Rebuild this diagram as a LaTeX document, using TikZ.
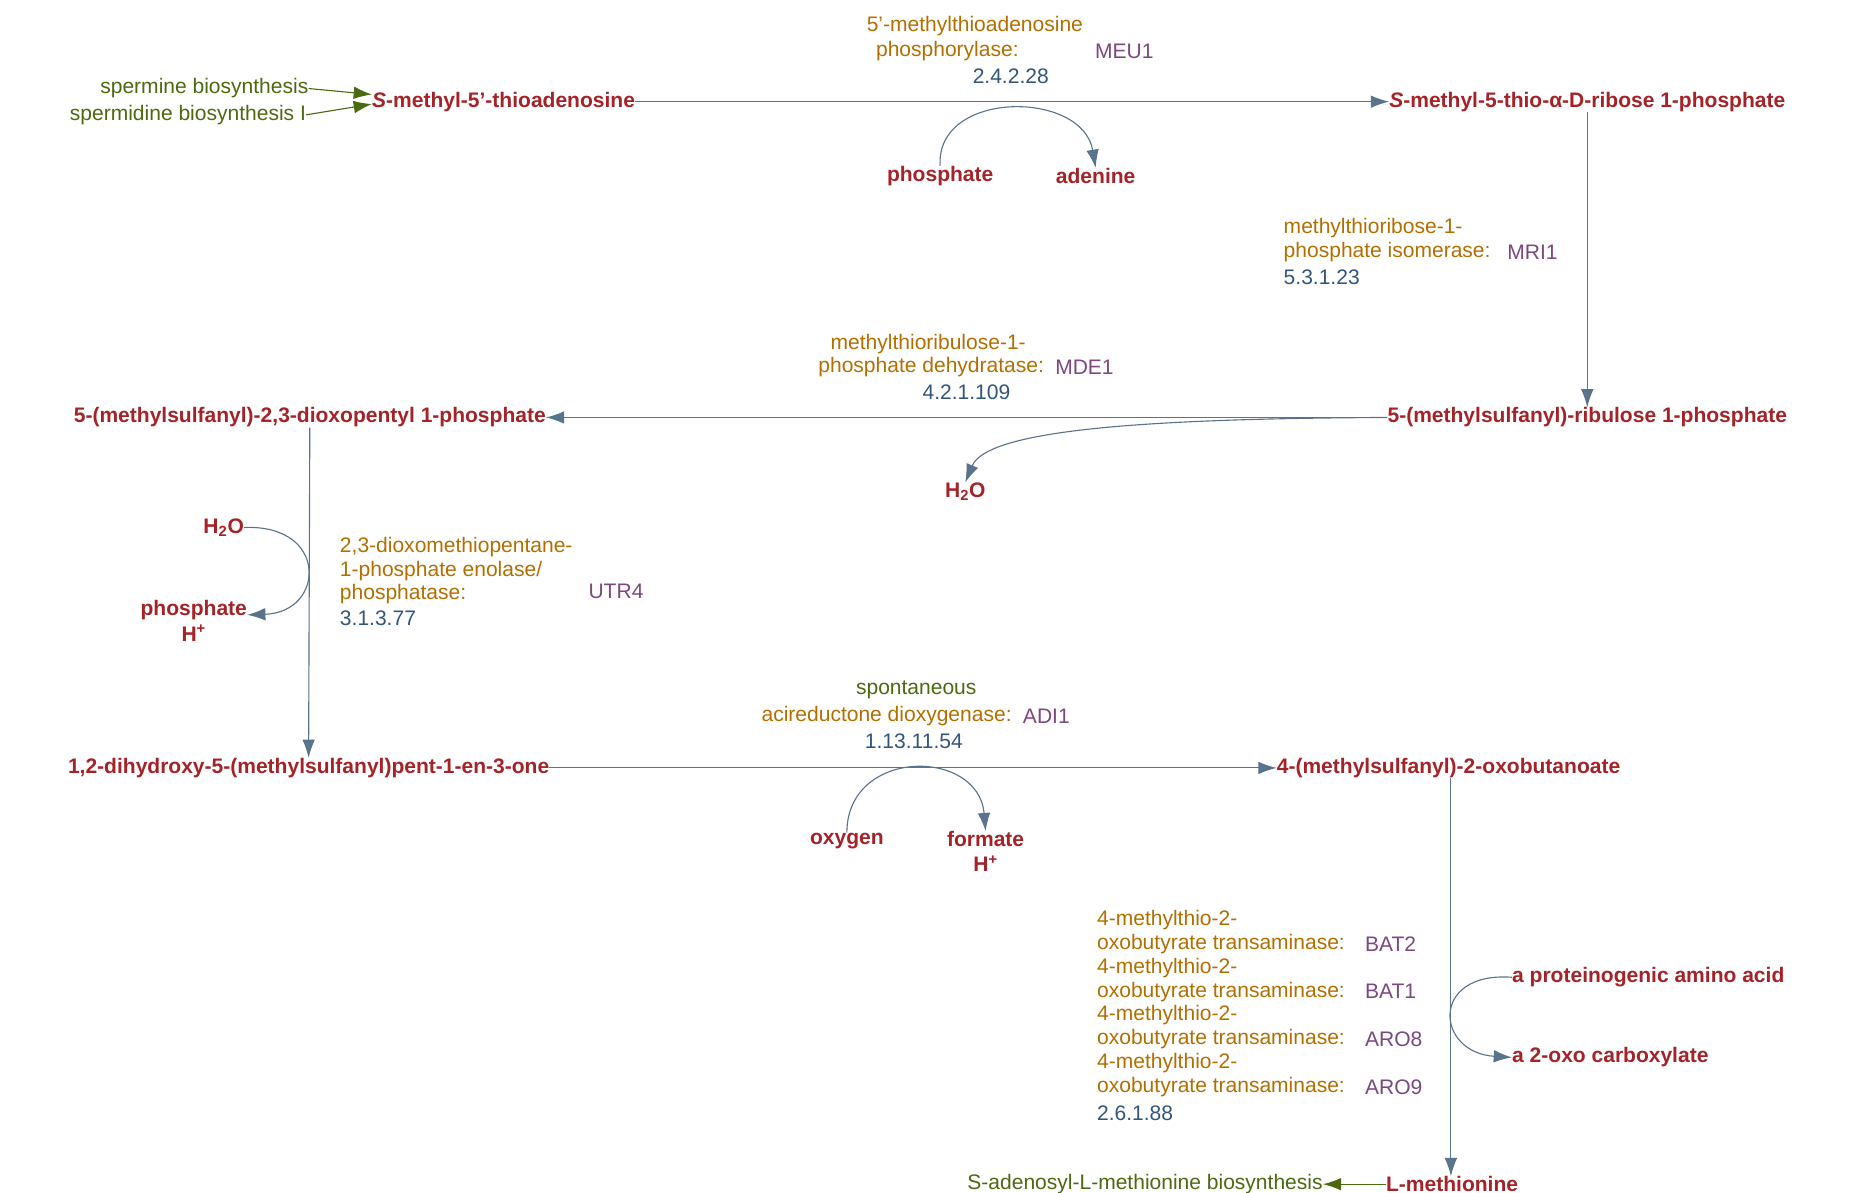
\documentclass[tikz,border=0pt]{standalone}
\usepackage{fontspec}
\setmainfont{Liberation Sans}
\usetikzlibrary{arrows.meta,calc}
\definecolor{met}{RGB}{165,35,40}
\definecolor{enz}{RGB}{180,110,0}
\definecolor{gene}{RGB}{125,70,130}
\definecolor{ec}{RGB}{50,85,125}
\definecolor{path}{RGB}{75,105,15}
\definecolor{arr}{RGB}{90,115,140}
\tikzset{
 m/.style={font=\fontsize{15}{18}\selectfont\bfseries, text=met, inner sep=0pt},
 e/.style={font=\fontsize{15}{18}\selectfont, text=enz, inner sep=0pt},
 g/.style={font=\fontsize{15}{18}\selectfont, text=gene, inner sep=0pt},
 c/.style={font=\fontsize{15}{18}\selectfont, text=ec, inner sep=0pt},
 p/.style={font=\fontsize{15}{18}\selectfont, text=path, inner sep=0pt},
 a/.style={draw=arr, line width=0.8pt, -{Latex[length=13pt,width=9pt]}},
 ga/.style={draw=path, line width=0.8pt, -{Latex[length=13pt,width=9pt]}},
}
\begin{document}
\begin{tikzpicture}[x=0.03cm,y=-0.03cm]
\useasboundingbox (0,0) rectangle (1550,997);
% metabolites
\node[m] (mta) at (421,85) {\textit{S}-methyl-5'-thioadenosine};
\node[m] (mtr) at (1327,85) {\textit{S}-methyl-5-thio-α-D-ribose 1-phosphate};
\node[m] (mtru) at (1327,349) {5-(methylsulfanyl)-ribulose 1-phosphate};
\node[m] (dk) at (259,349) {5-(methylsulfanyl)-2,3-dioxopentyl 1-phosphate};
\node[m] (dhk) at (258,642) {1,2-dihydroxy-5-(methylsulfanyl)pent-1-en-3-one};
\node[m] (kmtb) at (1211,642) {4-(methylsulfanyl)-2-oxobutanoate};
\node[m] (lmet) at (1214,990) {L-methionine};
\node[p,anchor=east] (sab) at (1106,990) {S-adenosyl-L-methionine biosynthesis};
\node[p,anchor=east] (spm) at (258,74) {spermine biosynthesis};
\node[p,anchor=east] (spd) at (256,96) {spermidine biosynthesis I};
\node[m] (pi1) at (786,147) {phosphate};
\node[m] (ade) at (916,147) {adenine};
\node[m] (w1) at (807,411) {H\textsubscript{2}O};
\node[m] (w2) at (187,441) {H\textsubscript{2}O};
\node[m,align=center] (pi2) at (162,519) {phosphate\\H\textsuperscript{+}};
\node[m] (oxy) at (708,703) {oxygen};
\node[m,align=center] (form) at (824,712) {formate\\H\textsuperscript{+}};
\node[m,anchor=west] (aa) at (1264,817) {a proteinogenic amino acid};
\node[m,anchor=west] (oxo) at (1264,884) {a 2-oxo carboxylate};
% enzyme labels
\node[e] (e1a) at (815,22) {5'-methylthioadenosine};
\node[e] (e1b) at (792,43) {phosphorylase:};
\node[g] (g1) at (940,43) {MEU1};
\node[c] (c1) at (845,64) {2.4.2.28};
\node[e,anchor=west] (e2a) at (1073,191) {methylthioribose-1-};
\node[e,anchor=west] (e2b) at (1073,211) {phosphate isomerase:};
\node[g,anchor=west] (g2) at (1260,211) {MRI1};
\node[c,anchor=west] (c2) at (1073,232) {5.3.1.23};
\node[e] (e3a) at (776,288) {methylthioribulose-1-};
\node[e,anchor=east] (e3b) at (873,307) {phosphate dehydratase:};
\node[g,anchor=west] (g3) at (882,307) {MDE1};
\node[c] (c3) at (808,328) {4.2.1.109};
\node[e,anchor=west] (e4a) at (284,457) {2,3-dioxomethiopentane-};
\node[e,anchor=west] (e4b) at (284,477) {1-phosphate enolase/};
\node[e,anchor=west] (e4c) at (284,497) {phosphatase:};
\node[g] (g4) at (515,494) {UTR4};
\node[c,anchor=west] (c4) at (284,517) {3.1.3.77};
\node[p] (sp) at (766,577) {spontaneous};
\node[e,anchor=east] (e5) at (846,599) {acireductone dioxygenase:};
\node[g,anchor=west] (g5) at (855,599) {ADI1};
\node[c] (c5) at (764,620) {1.13.11.54};
\foreach \i/\y/\gname in {1/769/BAT2,2/809/BAT1,3/849/ARO8,4/889/ARO9}{
 \node[e,anchor=west] (ba\i) at (917,\y) {4-methylthio-2-};
 \node[e,anchor=west] (bb\i) at (917,\y+20) {oxobutyrate transaminase:};
 \node[g,anchor=west] (bg\i) at (1141,\y+20) {\gname};
}
\node[c,anchor=west] (c6) at (917,931) {2.6.1.88};
% arrows
\draw[a] (mta.east) -- (mtr.west);
\draw[a] (pi1.north) .. controls (782,75) and (905,75) .. (ade.north);
\draw[a] (mtr.south) -- (mtru.north);
\draw[a] (mtru.west) -- (dk.east);
\draw[a] (mtru.west) .. controls (950,350) and (825,360) .. (w1.north);
\draw[a] (dk.south) -- (dhk.north);
\draw[a] (w2.east) .. controls (275,438) and (272,512) .. (pi2.east |- 0,514);
\draw[a] (dhk.east) -- (kmtb.west);
\draw[a] (oxy.north) .. controls (708,625) and (818,625) .. (form.north);
\draw[a] (kmtb.south -| 1213,0) -- (lmet.north -| 1213,0);
\draw[a] (aa.west) .. controls (1195,812) and (1200,880) .. (oxo.west);
\draw[ga] (lmet.west) -- (sab.east);
\draw[ga] (spm.east) -- ($(mta.west)+(0,-6)$);
\draw[ga] (spd.east) -- ($(mta.west)+(0,2)$);
\end{tikzpicture}
\end{document}
